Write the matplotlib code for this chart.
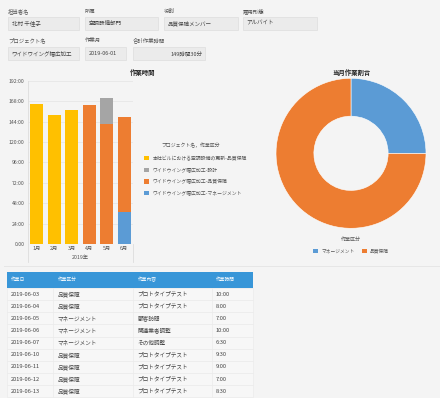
import matplotlib
matplotlib.use("Agg")
import matplotlib.pyplot as plt
from matplotlib.patches import Rectangle
import numpy as np

plt.rcParams['font.family'] = ['Noto Sans CJK JP', 'DejaVu Sans']

W, H = 440, 398
BG = '#f4f4f4'

# ---- data ----
field_labels_1 = ['担当者名', '所属', '役割', '雇用形態']
field_values_1 = ['北村 千佳子', '空調設備部門', '品質保障メンバー', 'アルバイト']
field_labels_2 = ['プロジェクト名', '作業月', '合計作業時間']
field_values_2 = ['ワイドウイング幅広加工', '2019-06-01', '149時間30分']

months = ['1月', '2月', '3月', '4月', '5月', '6月']
year_label = '2019年'
series_names = ['本社ビルにおける空調設備の更新-品質保障', 'ワイドウイング幅広加工-設計',
                'ワイドウイング幅広加工-品質保障', 'ワイドウイング幅広加工-マネージメント']
honsha_quality = [165, 151.5, 157.5, 0, 0, 0]
wide_design = [0, 0, 0, 0, 30.5, 0]
wide_quality = [0, 0, 0, 163, 141, 112]
wide_mgmt = [0, 0, 0, 0, 0, 37.5]
yticks = [0, 24, 48, 72, 96, 120, 144, 168, 192]
ytick_labels = ['0:00', '24:00', '48:00', '72:00', '96:00', '120:00', '144:00', '168:00', '192:00']

pie_labels = ['マネージメント', '品質保障']
pie_values = [37.5, 112]

table_header = ['作業日', '作業区分', '作業内容', '作業時間']
t_dates = ['2019-06-03', '2019-06-04', '2019-06-05', '2019-06-06', '2019-06-07',
           '2019-06-10', '2019-06-11', '2019-06-12', '2019-06-13']
t_cats = ['品質保障', '品質保障', 'マネージメント', 'マネージメント', 'マネージメント',
          '品質保障', '品質保障', '品質保障', '品質保障']
t_contents = ['プロトタイプテスト', 'プロトタイプテスト', '顧客訪問', '関連業者調整', 'その他調整',
              'プロトタイプテスト', 'プロトタイプテスト', 'プロトタイプテスト', 'プロトタイプテスト']
t_times = ['10:00', '8:00', '7:00', '10:00', '6:30', '9:30', '9:00', '7:00', '8:30']

YEL, GRY, ORG, BLU = '#ffc000', '#a5a5a5', '#ed7d31', '#5b9bd5'

fig = plt.figure(figsize=(W / 100, H / 100), dpi=100, facecolor=BG)

def fx(x):
    return x / W

def fy(y):
    return 1 - y / H

def rect(x0, y0, x1, y1, fc, ec='none', lw=0.6):
    fig.patches.append(Rectangle((fx(x0), fy(y1)), (x1 - x0) / W, (y1 - y0) / H,
                                 transform=fig.transFigure, facecolor=fc, edgecolor=ec, lw=lw))

def txt(x, y, s, size=4.0, color='#555555', ha='left', va='center', **kw):
    fig.text(fx(x), fy(y), s, fontsize=size, color=color, ha=ha, va=va, **kw)

# ---- header fields ----
boxes1 = [(8, 79), (85, 158), (164, 238), (243, 317)]
for (x0, x1), lab, val in zip(boxes1, field_labels_1, field_values_1):
    txt(x0, 11, lab, size=3.9)
    rect(x0, 17, x1, 29.5, '#ebebeb', '#e0e0e0')
    txt(x0 + 3.5, 23.2, val, color='#444444', size=4.0)
boxes2 = [(8, 79), (85, 126), (133, 205)]
for i, ((x0, x1), lab, val) in enumerate(zip(boxes2, field_labels_2, field_values_2)):
    txt(x0, 40.5, lab, size=3.9)
    rect(x0, 47, x1, 59.5, '#ebebeb', '#e0e0e0')
    if i == 2:
        txt(x1 - 2.5, 53.2, val, color='#444444', ha='right', size=4.0)
    else:
        txt(x0 + 3.5, 53.2, val, color='#444444', size=4.0)

# ---- bar chart ----
ax_l, ax_r, ax_t, ax_b = 28, 133, 80.7, 244
ax = fig.add_axes([fx(ax_l), fy(ax_b), (ax_r - ax_l) / W, (ax_b - ax_t) / H])
ax.set_facecolor('none')
x = np.arange(len(months))
bw = 0.74
ax.bar(x, honsha_quality, bw, color=YEL, zorder=3)
ax.bar(x, wide_mgmt, bw, color=BLU, zorder=3)
ax.bar(x, wide_quality, bw, bottom=wide_mgmt, color=ORG, zorder=3)
bott = np.array(wide_mgmt) + np.array(wide_quality)
ax.bar(x, wide_design, bw, bottom=bott, color=GRY, zorder=3)
ax.set_xlim(-0.5, len(months) - 0.5)
ax.set_ylim(0, 192)
ax.set_yticks(yticks)
ax.set_yticklabels(ytick_labels, fontsize=3.7, color='#555555')
ax.set_xticks(x)
ax.set_xticklabels(months, fontsize=3.8, color='#555555')
ax.tick_params(axis='y', length=0, pad=2.5)
ax.tick_params(axis='x', length=0, pad=1.5)
ax.grid(axis='y', color='#e6e6e6', lw=0.6, zorder=0)
for s in ['top', 'right', 'bottom']:
    ax.spines[s].set_visible(False)
ax.spines['left'].set_color('#dddddd')
ax.spines['left'].set_linewidth(0.6)
fig.add_artist(plt.Line2D([fx(ax_l), fx(ax_l)], [fy(244), fy(262)], color='#dddddd', lw=0.6))
fig.add_artist(plt.Line2D([fx(ax_r), fx(ax_r)], [fy(244), fy(262)], color='#dddddd', lw=0.6))
txt(80.5, 257.3, year_label, size=3.8, ha='center')
txt(143, 72.5, '作業時間', size=4.6, color='#222222', ha='center', weight='bold')

# legend
txt(191, 146, 'プロジェクト名，作業区分', size=3.5, ha='center')
leg_cols = [YEL, GRY, ORG, BLU]
for i, (c, n) in enumerate(zip(leg_cols, series_names)):
    yy = 158.3 + i * 11.6
    rect(144, yy - 2.2, 148.5, yy + 2.2, c)
    txt(152.5, yy, n, size=3.5)

# ---- donut ----
cx, cy, r = 351, 153.3, 75
pax = fig.add_axes([fx(cx - r), fy(cy + r), 2 * r / W, 2 * r / H])
pax.pie(pie_values, colors=[BLU, ORG], startangle=90, counterclock=False, radius=1,
        wedgeprops=dict(width=0.505, edgecolor='white', linewidth=0.4))
pax.set_xlim(-1, 1)
pax.set_ylim(-1, 1)
pax.set_aspect('auto')
pax.axis('off')
txt(cx, 72.5, '当月作業割合', size=4.6, color='#222222', ha='center', weight='bold')
txt(cx, 239, '作業区分', size=3.6, ha='center')
rect(313, 248.5, 317.5, 253, BLU)
txt(322, 250.8, pie_labels[0], size=3.4)
rect(362, 248.5, 366.5, 253, ORG)
txt(370, 250.8, pie_labels[1], size=3.4)

# separator
fig.add_artist(plt.Line2D([fx(4), fx(440)], [fy(266.3), fy(266.3)], color='#e6e6e6', lw=0.7))

# ---- table ----
tx0, tx1 = 7, 253
rect(tx0, 271.5, tx1, 288, '#3896d8')
col_x = [11, 57.3, 137.3, 215.5]
col_sep = [53, 133, 212]
for cxp, h in zip(col_x, table_header):
    txt(cxp, 279.8, h, size=3.4, color='white')
rh = 12.15
for i in range(len(t_dates)):
    y0 = 288 + i * rh
    rect(tx0, y0, tx1, y0 + rh, '#f7f7f7', '#ebebeb', lw=0.5)
    yc = y0 + rh / 2
    for cxp, v in zip(col_x, [t_dates[i], t_cats[i], t_contents[i], t_times[i]]):
        txt(cxp, yc, v, size=4.1, color='#444444')
    for sx in col_sep:
        fig.add_artist(plt.Line2D([fx(sx), fx(sx)], [fy(y0), fy(y0 + rh)], color='#ebebeb', lw=0.5))

fig.savefig('out.png', dpi=100, facecolor=BG)
